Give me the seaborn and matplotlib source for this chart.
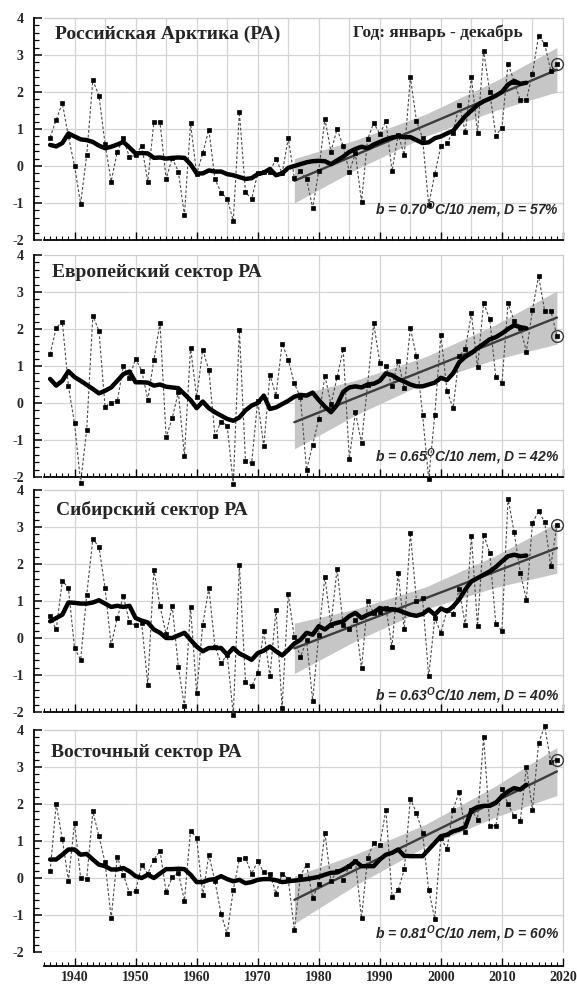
import matplotlib
matplotlib.use("Agg")
import matplotlib.pyplot as plt
from matplotlib.ticker import MultipleLocator
import seaborn as sns

# ---------------- data ----------------
years = list(range(1936, 2020))
smooth_years = list(range(1936, 2015))
trend_years = [1976, 2019]
band_years = [1976, 1986, 1997.5, 2009, 2019]

titles = ["Российская Арктика (РА)", "Европейский сектор РА",
          "Сибирский сектор РА", "Восточный сектор РА"]
period_label = "Год: январь - декабрь"
trend_b = ["0.70", "0.65", "0.63", "0.81"]
trend_d = ["57", "42", "40", "60"]

ra_annual = [0.77, 1.25, 1.70, 0.80, 0.00, -1.02, 0.30, 2.32, 1.90, 0.60,
             -0.42, 0.39, 0.75, 0.23, 0.30, 0.54, -0.42, 1.20, 1.18, -0.35,
             0.22, -0.15, -1.33, 1.15, -0.22, 0.35, 0.98, -0.35, -0.72, -0.88,
             -1.48, 1.45, -0.70, -0.90, -0.20, -0.15, -0.15, 0.20, -0.20, 0.75,
             -0.33, -0.13, -0.35, -1.14, -0.13, 1.27, 0.39, 1.00, 0.54, -0.15,
             0.34, -0.96, 0.72, 1.17, 0.86, 1.22, -0.14, 0.85, 0.30, 2.40,
             1.22, 0.75, -1.05, -0.22, 0.55, 0.63, 0.90, 1.66, 0.91, 2.40,
             0.90, 3.12, 2.00, 0.82, 1.04, 2.77, 2.28, 1.78, 1.78, 2.50,
             3.52, 3.30, 2.57, 2.75]
ra_smooth = [0.57, 0.53, 0.62, 0.88, 0.80, 0.72, 0.70, 0.65, 0.55, 0.48,
             0.52, 0.58, 0.65, 0.50, 0.34, 0.35, 0.34, 0.22, 0.23, 0.20,
             0.22, 0.23, 0.22, 0.05, -0.20, -0.20, -0.12, -0.15, -0.15, -0.22,
             -0.25, -0.30, -0.35, -0.33, -0.22, -0.18, -0.08, -0.25, -0.20, -0.05,
             0.00, 0.05, 0.10, 0.13, 0.14, 0.13, 0.05, 0.15, 0.25, 0.38,
             0.46, 0.52, 0.48, 0.58, 0.65, 0.72, 0.77, 0.80, 0.78, 0.78,
             0.70, 0.62, 0.64, 0.75, 0.80, 0.88, 0.95, 1.15, 1.35, 1.50,
             1.65, 1.75, 1.82, 1.90, 2.00, 2.20, 2.30, 2.22, 2.25]
ra_trend = [-0.40, 2.60]
ra_band_lo = [-1.00, -0.10, 0.80, 1.50, 2.00]
ra_band_hi = [0.20, 0.70, 1.40, 2.30, 3.20]

eu_annual = [1.32, 2.03, 2.20, 0.45, -0.55, -2.15, -0.72, 2.36, 1.95, -0.10,
             0.01, 0.05, 1.00, 0.68, 1.20, 0.87, 0.09, 1.17, 2.16, -0.93,
             -0.41, 0.29, -1.44, 1.50, 0.15, 1.44, 0.89, -0.88, -0.50, -0.61,
             -2.20, 1.97, -1.58, -1.63, 0.06, -1.17, 0.76, 0.20, 1.60, 1.17,
             0.53, 0.15, -1.81, -1.13, -0.43, 0.74, -0.03, 0.69, 1.46, -1.51,
             -0.25, -1.08, 0.50, 2.15, 1.08, 0.99, 0.45, 1.14, 0.40, 2.03,
             1.26, -0.32, -2.05, -0.32, 1.85, 0.33, -0.14, 1.28, 1.45, 2.42,
             0.96, 2.70, 2.27, 0.69, 0.54, 2.70, 2.22, 2.04, 1.39, 2.51,
             3.44, 2.48, 2.50, 1.82]
eu_smooth = [0.65, 0.47, 0.60, 0.86, 0.70, 0.60, 0.49, 0.38, 0.26, 0.33,
             0.42, 0.60, 0.78, 0.85, 0.56, 0.56, 0.55, 0.47, 0.50, 0.44,
             0.42, 0.40, 0.24, 0.08, -0.14, 0.04, -0.14, -0.25, -0.34, -0.43,
             -0.48, -0.39, -0.20, -0.07, 0.00, 0.20, -0.16, -0.12, -0.03, 0.06,
             0.17, 0.22, 0.20, 0.28, 0.08, -0.10, -0.25, -0.05, 0.30, 0.42,
             0.45, 0.42, 0.50, 0.52, 0.60, 0.80, 0.75, 0.65, 0.58, 0.50,
             0.45, 0.45, 0.50, 0.55, 0.68, 0.62, 0.80, 1.10, 1.25, 1.35,
             1.48, 1.60, 1.72, 1.78, 1.88, 2.00, 2.10, 2.05, 2.02]
eu_trend = [-0.52, 2.31]
eu_band_lo = [-1.24, -0.33, 0.55, 1.18, 1.59]
eu_band_hi = [0.20, 0.61, 1.25, 2.12, 3.03]

si_annual = [0.59, 0.23, 1.55, 1.35, -0.27, -0.59, 1.17, 2.68, 2.46, 1.35,
             -0.20, 0.54, 1.13, 0.42, 0.34, 0.40, -1.26, 1.85, 0.86, 0.10,
             0.87, -0.78, -1.85, 0.83, -1.49, 0.36, 1.35, -0.23, -0.68, -0.45,
             -2.07, 1.98, -1.19, -1.31, -0.95, 0.20, -1.04, 0.77, -1.89, 1.19,
             0.02, -0.52, -0.06, -1.69, 0.09, 1.65, 0.35, 1.87, 0.35, 0.23,
             0.50, -0.82, 0.99, 0.68, 0.70, 0.81, -0.25, 1.76, 0.23, 2.84,
             1.00, 1.08, -1.04, 0.54, 0.14, 0.75, 0.66, 1.33, 0.34, 2.75,
             0.32, 2.79, 2.30, 0.38, 0.20, 3.77, 2.86, 1.77, 1.04, 3.11,
             3.42, 3.14, 1.94, 3.06]
si_smooth = [0.45, 0.54, 0.63, 0.96, 0.95, 0.93, 0.93, 0.96, 1.02, 0.93,
             0.84, 0.87, 0.84, 0.87, 0.54, 0.47, 0.42, 0.23, 0.14, 0.00,
             0.00, 0.07, 0.14, -0.05, -0.23, -0.36, -0.27, -0.27, -0.27, -0.45,
             -0.27, -0.42, -0.50, -0.59, -0.41, -0.34, -0.23, -0.36, -0.47, -0.32,
             -0.15, -0.05, 0.14, 0.09, 0.32, 0.23, 0.36, 0.41, 0.45, 0.59,
             0.68, 0.54, 0.63, 0.69, 0.81, 0.77, 0.78, 0.75, 0.69, 0.63,
             0.60, 0.65, 0.77, 0.63, 0.80, 0.72, 0.85, 1.04, 1.31, 1.53,
             1.62, 1.71, 1.80, 1.92, 2.07, 2.21, 2.25, 2.21, 2.23]
si_trend = [-0.28, 2.43]
si_band_lo = [-0.96, -0.08, 0.78, 1.37, 1.75]
si_band_hi = [0.40, 0.78, 1.38, 2.23, 3.11]

ea_annual = [0.18, 2.00, 1.05, -0.07, 1.49, 0.00, -0.02, 1.80, 1.13, 0.42,
             -1.09, 0.57, 0.09, -0.41, -0.36, 0.36, 0.12, 0.50, 0.74, -0.38,
             0.02, 0.14, -0.61, 1.28, 1.08, -0.47, 0.63, -0.09, -0.97, -1.51,
             -0.32, 0.51, 0.54, 0.12, 0.45, 0.15, 0.12, -0.42, 0.12, -0.03,
             -1.41, 0.06, 0.36, -0.54, -0.16, 1.22, -0.09, 0.20, -0.06, 0.32,
             0.45, -1.08, 0.54, 0.95, 0.90, 1.85, -0.50, -0.33, 0.23, 2.14,
             1.76, 1.22, -0.32, -1.10, 1.08, 0.78, 1.85, 2.32, 1.24, 1.85,
             1.58, 3.81, 1.41, 1.41, 2.41, 2.00, 1.67, 1.53, 3.00, 1.85,
             3.65, 4.10, 3.13, 3.20]
ea_smooth = [0.50, 0.50, 0.63, 0.77, 0.77, 0.63, 0.65, 0.50, 0.36, 0.32,
             0.23, 0.23, 0.27, 0.18, 0.05, 0.00, 0.09, 0.00, 0.12, 0.24,
             0.24, 0.25, 0.24, 0.09, -0.11, -0.11, -0.05, -0.03, 0.05, -0.03,
             -0.09, -0.05, -0.14, -0.11, -0.05, -0.03, -0.03, -0.06, -0.11, -0.09,
             -0.07, -0.05, -0.03, 0.00, 0.03, 0.09, 0.14, 0.15, 0.23, 0.32,
             0.45, 0.32, 0.32, 0.32, 0.50, 0.63, 0.68, 0.77, 0.60, 0.59,
             0.59, 0.59, 0.77, 0.95, 1.13, 1.17, 1.26, 1.31, 1.38, 1.83,
             1.92, 1.95, 1.95, 2.03, 2.21, 2.34, 2.43, 2.39, 2.52]
ea_trend = [-0.59, 2.88]
ea_band_lo = [-1.23, -0.20, 0.85, 1.65, 2.23]
ea_band_hi = [0.05, 0.64, 1.45, 2.49, 3.53]

panels = [
    (ra_annual, ra_smooth, ra_trend, ra_band_lo, ra_band_hi),
    (eu_annual, eu_smooth, eu_trend, eu_band_lo, eu_band_hi),
    (si_annual, si_smooth, si_trend, si_band_lo, si_band_hi),
    (ea_annual, ea_smooth, ea_trend, ea_band_lo, ea_band_hi),
]

# ---------------- style ----------------
sns.set_theme(style="white")
plt.rcParams["font.family"] = ["Liberation Serif", "DejaVu Serif"]
plt.rcParams["font.weight"] = "bold"
plt.rcParams["axes.unicode_minus"] = False
plt.rcParams["mathtext.fontset"] = "custom"
plt.rcParams["mathtext.it"] = "Liberation Sans:italic:bold"
plt.rcParams["mathtext.rm"] = "Liberation Sans:italic:bold"

W, H = 577, 984
fig = plt.figure(figsize=(W / 100, H / 100), dpi=100)

panel_px = [(18, 240), (255, 477), (490, 712), (730, 952)]
x0_px, x1_px = 44, 563
title_pos = [(0.021, 0.926), (0.015, 0.921), (0.023, 0.910), (0.013, 0.899)]
stat_y = [0.135, 0.091, 0.072, 0.081]

grid_c = "#d4d4d4"

for i, (annual, smooth, trend, blo, bhi) in enumerate(panels):
    top, bot = panel_px[i]
    ax = fig.add_axes([x0_px / W, 1 - bot / H, (x1_px - x0_px) / W, (bot - top) / H])
    ax.set_xlim(1935, 2020)
    ax.set_ylim(-2, 4)

    # grid
    ax.set_axisbelow(True)
    for yv in [-1, 0, 1, 2, 3]:
        ax.axhline(yv, color=grid_c, lw=0.9, zorder=0)
    vgrid = range(1940, 2020, 5) if i == 0 else range(1940, 2020, 10)
    for xv in vgrid:
        ax.axvline(xv, color=grid_c, lw=0.9, zorder=0)
    if i == 3:
        ax.axhline(-2, color=grid_c, lw=0.9, zorder=0)

    # confidence band & trend
    ax.fill_between(band_years, blo, bhi, color="#c6c6c6", lw=0, zorder=1)
    sns.lineplot(x=trend_years, y=trend, ax=ax, color="#3c3c3c", lw=1.7, zorder=3)

    # annual anomalies
    sns.lineplot(x=years, y=annual, ax=ax, color="#4a4a4a", lw=0.8,
                 linestyle=(0, (2.5, 1.8)), marker="s", markersize=3.4,
                 markerfacecolor="black", markeredgecolor="black",
                 markeredgewidth=0.5, zorder=4, clip_on=False)
    # smoothed curve
    sns.lineplot(x=smooth_years, y=smooth, ax=ax, color="black", lw=3.2,
                 zorder=5, solid_joinstyle="round")
    # last year circled
    sns.lineplot(x=[years[-1]], y=[annual[-1]], ax=ax, lw=0, marker="o",
                 markersize=8.5, markerfacecolor="none", markeredgecolor="#3a3a3a",
                 markeredgewidth=1.0, zorder=6, clip_on=False)

    # spines
    for s in ["top", "right"]:
        ax.spines[s].set_color("#cccccc")
        ax.spines[s].set_linewidth(0.9)
    ax.spines["left"].set_color("black")
    ax.spines["left"].set_linewidth(1.3)
    ax.spines["left"].set_position(("outward", 7.5))
    ax.spines["bottom"].set_color("black")
    ax.spines["bottom"].set_linewidth(1.3)
    if i == 3:
        ax.spines["bottom"].set_position(("outward", 10))

    ax.yaxis.set_major_locator(MultipleLocator(1))
    ax.yaxis.set_minor_locator(MultipleLocator(0.2))
    ax.xaxis.set_major_locator(MultipleLocator(10))
    ax.xaxis.set_minor_locator(MultipleLocator(1))
    ax.tick_params(axis="y", which="major", direction="in", length=6, width=1.1,
                   labelsize=10, pad=7, left=True, color="black")
    ax.tick_params(axis="y", which="minor", direction="in", length=3.5, width=0.9,
                   left=True, color="black")
    ax.tick_params(axis="x", which="major", direction="in", length=5.5, width=1.0,
                   labelsize=10, pad=4, bottom=True, color="black",
                   labelbottom=(i == 3))
    ax.tick_params(axis="x", which="minor", direction="in", length=3, width=0.8,
                   bottom=True, color="black")
    ax.set_xlabel("")
    ax.set_ylabel("")
    for lbl in ax.get_xticklabels() + ax.get_yticklabels():
        lbl.set_fontweight("bold")

    # texts
    ax.text(title_pos[i][0], title_pos[i][1], titles[i], transform=ax.transAxes,
            ha="left", va="center", fontsize=14, fontweight="bold",
            family=["Liberation Serif", "DejaVu Serif"], zorder=7)
    if i == 0:
        ax.text(0.923, 0.935, period_label, transform=ax.transAxes,
                ha="right", va="center", fontsize=12.5, fontweight="bold",
                family=["Liberation Serif", "DejaVu Serif"], zorder=7)
    stat = f"b = {trend_b[i]}$^{{O}}$C/10 лет, D = {trend_d[i]}%"
    ax.text(0.992, stat_y[i], stat, transform=ax.transAxes, ha="right", va="center",
            fontsize=10, fontweight="bold", style="italic",
            family=["Liberation Sans", "DejaVu Sans"], zorder=7)

fig.savefig("out.png", dpi=100)
